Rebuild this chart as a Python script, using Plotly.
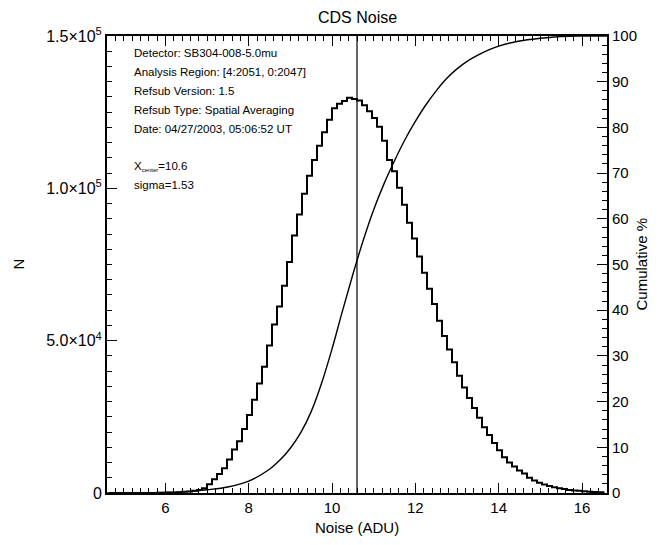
import plotly.graph_objects as go

# ---------------- data ----------------
bin_centers = [4.66, 4.78, 4.90, 5.02, 5.14, 5.26, 5.38, 5.50, 5.62, 5.74,
               5.86, 5.98, 6.10, 6.22, 6.34, 6.46, 6.58, 6.70, 6.82, 6.94,
               7.06, 7.18, 7.30, 7.42, 7.54, 7.66, 7.78, 7.90, 8.02, 8.14,
               8.26, 8.38, 8.50, 8.62, 8.74, 8.86, 8.98, 9.10, 9.22, 9.34,
               9.46, 9.58, 9.70, 9.82, 9.94, 10.06, 10.18, 10.30, 10.42, 10.54,
               10.66, 10.78, 10.90, 11.02, 11.14, 11.26, 11.38, 11.50, 11.62, 11.74,
               11.86, 11.98, 12.10, 12.22, 12.34, 12.46, 12.58, 12.70, 12.82, 12.94,
               13.06, 13.18, 13.30, 13.42, 13.54, 13.66, 13.78, 13.90, 14.02, 14.14,
               14.26, 14.38, 14.50, 14.62, 14.74, 14.86, 14.98, 15.10, 15.22, 15.34,
               15.46, 15.58, 15.70, 15.82, 15.94, 16.06, 16.18, 16.30, 16.42, 16.54]

counts = [0, 0, 0, 0, 0, 5, 10, 15, 25, 40,
          60, 90, 130, 190, 270, 380, 520, 720, 1000, 1550,
          2900, 4500, 6200, 8100, 11000, 14300, 17000, 21000, 25600, 30600,
          35900, 41400, 48400, 55300, 61200, 68000, 75800, 84500, 91400, 98200,
          104100, 109300, 114000, 118400, 122500, 126300, 127800, 128700, 129700, 129300,
          128800, 127300, 125300, 123100, 120200, 115600, 109300, 105600, 100200, 94600,
          88700, 83500, 77600, 72300, 67000, 62000, 56500, 51500, 47100, 42900,
          38500, 34600, 31200, 27900, 24700, 21600, 19000, 16400, 14000, 11700,
          10000, 8700, 7400, 6400, 5000, 4100, 3400, 2800, 2300, 1900,
          1600, 1300, 1000, 850, 700, 560, 450, 350, 280, 220]

cum_x = [4.6, 5.5, 6.0, 6.5, 7.0, 7.5, 8.0, 8.5, 8.75, 9.0, 9.25, 9.5, 9.75, 10.0,
         10.25, 10.5, 10.75, 11.0, 11.25, 11.5, 11.75, 12.0, 12.25, 12.5,
         12.75, 13.0, 13.25, 13.5, 13.75, 14.0, 14.5, 15.0, 15.5, 16.0, 16.6]
cum_pct = [0, 0, 0.1, 0.3, 0.7, 1.3, 2.6, 5.2, 7.2, 9.8, 13.2, 17.8, 24.0, 31.5,
           39.8, 47.8, 55.3, 62, 67.7, 72.7, 77.3, 81.3, 84.9, 88,
           90.7, 92.8, 94.5, 95.8, 96.9, 97.8, 98.9, 99.5, 99.9, 100, 100]

x_center = 10.6
sigma = 1.53

y_tickvals = [0, 50000, 100000, 150000]
SUP = "<sup>%s</sup>"
y_ticktext = ["0", "5.0×10" + SUP % "4", "1.0×10" + SUP % "5", "1.5×10" + SUP % "5"]

info_lines = ["Detector: SB304-008-5.0mu",
              "Analysis Region: [4:2051, 0:2047]",
              "Refsub Version: 1.5",
              "Refsub Type: Spatial Averaging",
              "Date: 04/27/2003, 05:06:52 UT"]

# ---------------- layout helpers ----------------
OFF = 8                      # page body margin
W, H = 644, 529
L, R, T, B = 99, 45, 28, 44
PW, PH = W - L - R, H - T - B


def px(xs):                  # screen pixel -> paper x
    return (xs - OFF - L) / PW


def py(ys):                  # screen pixel -> paper y
    return (H - B - (ys - OFF)) / PH


FONT = "Liberation Sans, Arial, Helvetica, sans-serif"
SMALL = "Liberation Sans, Arial, sans-serif"

fig = go.Figure()
fig.add_trace(go.Scatter(x=bin_centers, y=counts, mode="lines",
                         line=dict(color="black", width=2, shape="hvh"),
                         showlegend=False, hoverinfo="skip"))
fig.add_trace(go.Scatter(x=cum_x, y=cum_pct, mode="lines", yaxis="y2",
                         line=dict(color="black", width=1.4, shape="spline", smoothing=1.0),
                         showlegend=False, hoverinfo="skip"))

fig.add_shape(type="line", xref="x", yref="paper", x0=x_center, x1=x_center,
              y0=0, y1=1, line=dict(color="black", width=1.2))

annotations = []
line_y = [53, 72, 91, 110, 129]
for txt, ys in zip(info_lines, line_y):
    annotations.append(dict(xref="paper", yref="paper", x=px(132), y=py(ys),
                            text=txt, showarrow=False, xanchor="left", yanchor="middle",
                            font=dict(family=SMALL, size=11.5, color="black")))
annotations.append(dict(xref="paper", yref="paper", x=px(132), y=py(166),
                        text="X<sub><span style='font-size:6px'>center</span></sub>=%.1f" % x_center,
                        showarrow=False, xanchor="left", yanchor="middle",
                        font=dict(family=SMALL, size=11.5, color="black")))
annotations.append(dict(xref="paper", yref="paper", x=px(132), y=py(185),
                        text="sigma=%.2f" % sigma, showarrow=False,
                        xanchor="left", yanchor="middle",
                        font=dict(family=SMALL, size=11.5, color="black")))
# titles
annotations.append(dict(xref="paper", yref="paper", x=0.5, y=py(18), text="CDS Noise",
                        showarrow=False, xanchor="center", yanchor="middle",
                        font=dict(family=FONT, size=16, color="black")))
annotations.append(dict(xref="paper", yref="paper", x=0.5, y=py(527), text="Noise (ADU)",
                        showarrow=False, xanchor="center", yanchor="middle",
                        font=dict(family=FONT, size=15, color="black")))
annotations.append(dict(xref="paper", yref="paper", x=px(18), y=0.5, text="N",
                        showarrow=False, xanchor="center", yanchor="middle", textangle=-90,
                        font=dict(family=FONT, size=15, color="black")))
annotations.append(dict(xref="paper", yref="paper", x=px(641), y=0.5, text="Cumulative %",
                        showarrow=False, xanchor="center", yanchor="middle", textangle=-90,
                        font=dict(family=FONT, size=15, color="black")))

tickfont = dict(family=FONT, size=15, color="black")
ytickfont = dict(family=FONT, size=16, color="black")

fig.update_layout(
    width=W, height=H,
    margin=dict(l=L, r=R, t=T, b=B, pad=0),
    paper_bgcolor="white", plot_bgcolor="white",
    annotations=annotations,
    xaxis=dict(range=[4.6, 16.6], showgrid=False, zeroline=False,
               showline=True, linecolor="black", linewidth=2, mirror="ticks",
               ticks="inside", ticklen=10, tickwidth=1, tickcolor="black",
               tick0=0, dtick=2, tickfont=tickfont, automargin=False,
               minor=dict(ticks="inside", ticklen=5, tickwidth=1, tickcolor="black",
                          tick0=0, dtick=0.2, showgrid=False)),
    yaxis=dict(range=[0, 150000], showgrid=False, zeroline=False,
               showline=True, linecolor="black", linewidth=2, mirror=False,
               ticks="inside", ticklen=10, tickwidth=1, tickcolor="black",
               tickvals=y_tickvals, ticktext=y_ticktext, tickfont=ytickfont,
               automargin=False,
               minor=dict(ticks="inside", ticklen=5, tickwidth=1, tickcolor="black",
                          tick0=0, dtick=5000, showgrid=False)),
    yaxis2=dict(range=[0, 100], overlaying="y", side="right", showgrid=False,
                zeroline=False, showline=True, linecolor="black", linewidth=2,
                ticks="inside", ticklen=10, tickwidth=1, tickcolor="black",
                tick0=0, dtick=10, tickfont=tickfont, automargin=False,
                minor=dict(ticks="inside", ticklen=5, tickwidth=1, tickcolor="black",
                           tick0=0, dtick=2, showgrid=False)),
)

fig.write_html("out.html")
